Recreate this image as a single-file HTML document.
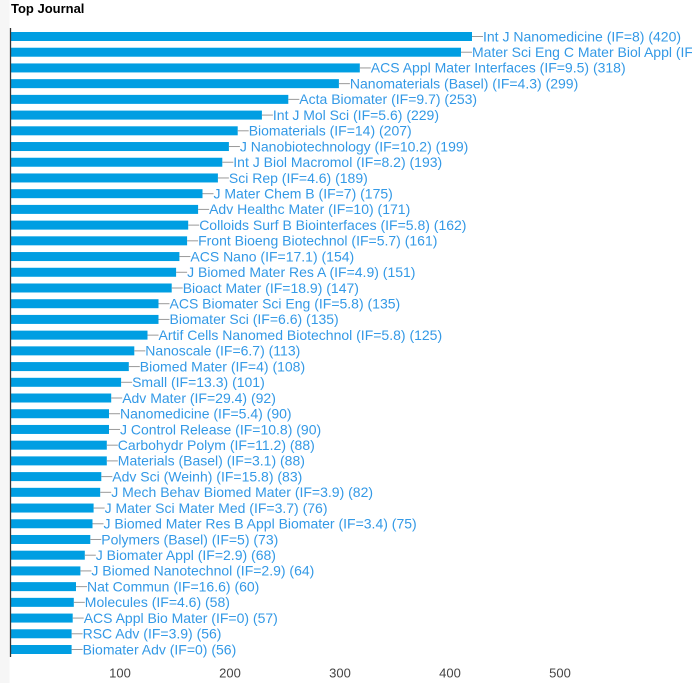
<!DOCTYPE html>
<html><head><meta charset="utf-8"><style>
html,body{margin:0;padding:0;background:#fff;width:692px;height:683px;overflow:hidden}
svg{display:block}
.l{font-family:"Liberation Sans",Arial,sans-serif;font-size:14px;fill:#3399e6}
.t{font-family:"Liberation Sans",Arial,sans-serif;font-size:13px;fill:#444;text-anchor:middle}
</style></head><body>
<svg width="692" height="683" viewBox="0 0 692 683" xmlns="http://www.w3.org/2000/svg">
<rect x="0" y="0" width="9.5" height="683" fill="#f6f6f6"/>
<text x="11" y="13" style="font-family:'Liberation Sans',Arial,sans-serif;font-size:13px;font-weight:bold;fill:#000">Top Journal</text>
<g fill="#009ee2">
<rect x="10" y="32.00" width="462" height="9"/>
<rect x="10" y="47.72" width="451" height="9"/>
<rect x="10" y="63.44" width="349.8" height="9"/>
<rect x="10" y="79.15" width="328.9" height="9"/>
<rect x="10" y="94.87" width="278.3" height="9"/>
<rect x="10" y="110.59" width="251.9" height="9"/>
<rect x="10" y="126.31" width="227.7" height="9"/>
<rect x="10" y="142.03" width="218.9" height="9"/>
<rect x="10" y="157.74" width="212.3" height="9"/>
<rect x="10" y="173.46" width="207.9" height="9"/>
<rect x="10" y="189.18" width="192.5" height="9"/>
<rect x="10" y="204.90" width="188.1" height="9"/>
<rect x="10" y="220.62" width="178.2" height="9"/>
<rect x="10" y="236.33" width="177.1" height="9"/>
<rect x="10" y="252.05" width="169.4" height="9"/>
<rect x="10" y="267.77" width="166.1" height="9"/>
<rect x="10" y="283.49" width="161.7" height="9"/>
<rect x="10" y="299.21" width="148.5" height="9"/>
<rect x="10" y="314.92" width="148.5" height="9"/>
<rect x="10" y="330.64" width="137.5" height="9"/>
<rect x="10" y="346.36" width="124.3" height="9"/>
<rect x="10" y="362.08" width="118.8" height="9"/>
<rect x="10" y="377.80" width="111.1" height="9"/>
<rect x="10" y="393.51" width="101.2" height="9"/>
<rect x="10" y="409.23" width="99" height="9"/>
<rect x="10" y="424.95" width="99" height="9"/>
<rect x="10" y="440.67" width="96.8" height="9"/>
<rect x="10" y="456.39" width="96.8" height="9"/>
<rect x="10" y="472.10" width="91.3" height="9"/>
<rect x="10" y="487.82" width="90.2" height="9"/>
<rect x="10" y="503.54" width="83.6" height="9"/>
<rect x="10" y="519.26" width="82.5" height="9"/>
<rect x="10" y="534.98" width="80.3" height="9"/>
<rect x="10" y="550.69" width="74.8" height="9"/>
<rect x="10" y="566.41" width="70.4" height="9"/>
<rect x="10" y="582.13" width="66" height="9"/>
<rect x="10" y="597.85" width="63.8" height="9"/>
<rect x="10" y="613.57" width="62.7" height="9"/>
<rect x="10" y="629.28" width="61.6" height="9"/>
<rect x="10" y="645.00" width="61.6" height="9"/>
</g>
<g stroke="#999" stroke-width="1">
<line x1="472" y1="36.5" x2="483" y2="36.5"/>
<line x1="461" y1="52.22" x2="472" y2="52.22"/>
<line x1="359.8" y1="67.94" x2="370.8" y2="67.94"/>
<line x1="338.9" y1="83.65" x2="349.9" y2="83.65"/>
<line x1="288.3" y1="99.37" x2="299.3" y2="99.37"/>
<line x1="261.9" y1="115.09" x2="272.9" y2="115.09"/>
<line x1="237.7" y1="130.81" x2="248.7" y2="130.81"/>
<line x1="228.9" y1="146.53" x2="239.9" y2="146.53"/>
<line x1="222.3" y1="162.24" x2="233.3" y2="162.24"/>
<line x1="217.9" y1="177.96" x2="228.9" y2="177.96"/>
<line x1="202.5" y1="193.68" x2="213.5" y2="193.68"/>
<line x1="198.1" y1="209.40" x2="209.1" y2="209.40"/>
<line x1="188.2" y1="225.12" x2="199.2" y2="225.12"/>
<line x1="187.1" y1="240.83" x2="198.1" y2="240.83"/>
<line x1="179.4" y1="256.55" x2="190.4" y2="256.55"/>
<line x1="176.1" y1="272.27" x2="187.1" y2="272.27"/>
<line x1="171.7" y1="287.99" x2="182.7" y2="287.99"/>
<line x1="158.5" y1="303.71" x2="169.5" y2="303.71"/>
<line x1="158.5" y1="319.42" x2="169.5" y2="319.42"/>
<line x1="147.5" y1="335.14" x2="158.5" y2="335.14"/>
<line x1="134.3" y1="350.86" x2="145.3" y2="350.86"/>
<line x1="128.8" y1="366.58" x2="139.8" y2="366.58"/>
<line x1="121.1" y1="382.30" x2="132.1" y2="382.30"/>
<line x1="111.2" y1="398.01" x2="122.2" y2="398.01"/>
<line x1="109" y1="413.73" x2="120" y2="413.73"/>
<line x1="109" y1="429.45" x2="120" y2="429.45"/>
<line x1="106.8" y1="445.17" x2="117.8" y2="445.17"/>
<line x1="106.8" y1="460.89" x2="117.8" y2="460.89"/>
<line x1="101.3" y1="476.60" x2="112.3" y2="476.60"/>
<line x1="100.2" y1="492.32" x2="111.2" y2="492.32"/>
<line x1="93.6" y1="508.04" x2="104.6" y2="508.04"/>
<line x1="92.5" y1="523.76" x2="103.5" y2="523.76"/>
<line x1="90.3" y1="539.48" x2="101.3" y2="539.48"/>
<line x1="84.8" y1="555.19" x2="95.8" y2="555.19"/>
<line x1="80.4" y1="570.91" x2="91.4" y2="570.91"/>
<line x1="76" y1="586.63" x2="87" y2="586.63"/>
<line x1="73.8" y1="602.35" x2="84.8" y2="602.35"/>
<line x1="72.7" y1="618.07" x2="83.7" y2="618.07"/>
<line x1="71.6" y1="633.78" x2="82.6" y2="633.78"/>
<line x1="71.6" y1="649.50" x2="82.6" y2="649.50"/>
</g>
<g class="l">
<text class="l" x="483" y="41.3">Int J Nanomedicine (IF=8) (420)</text>
<text class="l" x="472" y="57.02">Mater Sci Eng C Mater Biol Appl (IF=7.3) (410)</text>
<text class="l" x="370.8" y="72.74">ACS Appl Mater Interfaces (IF=9.5) (318)</text>
<text class="l" x="349.9" y="88.45">Nanomaterials (Basel) (IF=4.3) (299)</text>
<text class="l" x="299.3" y="104.17">Acta Biomater (IF=9.7) (253)</text>
<text class="l" x="272.9" y="119.89">Int J Mol Sci (IF=5.6) (229)</text>
<text class="l" x="248.7" y="135.61">Biomaterials (IF=14) (207)</text>
<text class="l" x="239.9" y="151.33">J Nanobiotechnology (IF=10.2) (199)</text>
<text class="l" x="233.3" y="167.04">Int J Biol Macromol (IF=8.2) (193)</text>
<text class="l" x="228.9" y="182.76">Sci Rep (IF=4.6) (189)</text>
<text class="l" x="213.5" y="198.48">J Mater Chem B (IF=7) (175)</text>
<text class="l" x="209.1" y="214.20">Adv Healthc Mater (IF=10) (171)</text>
<text class="l" x="199.2" y="229.92">Colloids Surf B Biointerfaces (IF=5.8) (162)</text>
<text class="l" x="198.1" y="245.63">Front Bioeng Biotechnol (IF=5.7) (161)</text>
<text class="l" x="190.4" y="261.35">ACS Nano (IF=17.1) (154)</text>
<text class="l" x="187.1" y="277.07">J Biomed Mater Res A (IF=4.9) (151)</text>
<text class="l" x="182.7" y="292.79">Bioact Mater (IF=18.9) (147)</text>
<text class="l" x="169.5" y="308.51">ACS Biomater Sci Eng (IF=5.8) (135)</text>
<text class="l" x="169.5" y="324.22">Biomater Sci (IF=6.6) (135)</text>
<text class="l" x="158.5" y="339.94">Artif Cells Nanomed Biotechnol (IF=5.8) (125)</text>
<text class="l" x="145.3" y="355.66">Nanoscale (IF=6.7) (113)</text>
<text class="l" x="139.8" y="371.38">Biomed Mater (IF=4) (108)</text>
<text class="l" x="132.1" y="387.10">Small (IF=13.3) (101)</text>
<text class="l" x="122.2" y="402.81">Adv Mater (IF=29.4) (92)</text>
<text class="l" x="120" y="418.53">Nanomedicine (IF=5.4) (90)</text>
<text class="l" x="120" y="434.25">J Control Release (IF=10.8) (90)</text>
<text class="l" x="117.8" y="449.97">Carbohydr Polym (IF=11.2) (88)</text>
<text class="l" x="117.8" y="465.69">Materials (Basel) (IF=3.1) (88)</text>
<text class="l" x="112.3" y="481.40">Adv Sci (Weinh) (IF=15.8) (83)</text>
<text class="l" x="111.2" y="497.12">J Mech Behav Biomed Mater (IF=3.9) (82)</text>
<text class="l" x="104.6" y="512.84">J Mater Sci Mater Med (IF=3.7) (76)</text>
<text class="l" x="103.5" y="528.56">J Biomed Mater Res B Appl Biomater (IF=3.4) (75)</text>
<text class="l" x="101.3" y="544.28">Polymers (Basel) (IF=5) (73)</text>
<text class="l" x="95.8" y="559.99">J Biomater Appl (IF=2.9) (68)</text>
<text class="l" x="91.4" y="575.71">J Biomed Nanotechnol (IF=2.9) (64)</text>
<text class="l" x="87" y="591.43">Nat Commun (IF=16.6) (60)</text>
<text class="l" x="84.8" y="607.15">Molecules (IF=4.6) (58)</text>
<text class="l" x="83.7" y="622.87">ACS Appl Bio Mater (IF=0) (57)</text>
<text class="l" x="82.6" y="638.58">RSC Adv (IF=3.9) (56)</text>
<text class="l" x="82.6" y="654.30">Biomater Adv (IF=0) (56)</text>
</g>
<line x1="10.5" y1="28" x2="10.5" y2="657" stroke="#333" stroke-width="1.3"/>
<text class="t" x="120" y="677.5">100</text>
<text class="t" x="230" y="677.5">200</text>
<text class="t" x="340" y="677.5">300</text>
<text class="t" x="450" y="677.5">400</text>
<text class="t" x="560" y="677.5">500</text>
</svg>
</body></html>
